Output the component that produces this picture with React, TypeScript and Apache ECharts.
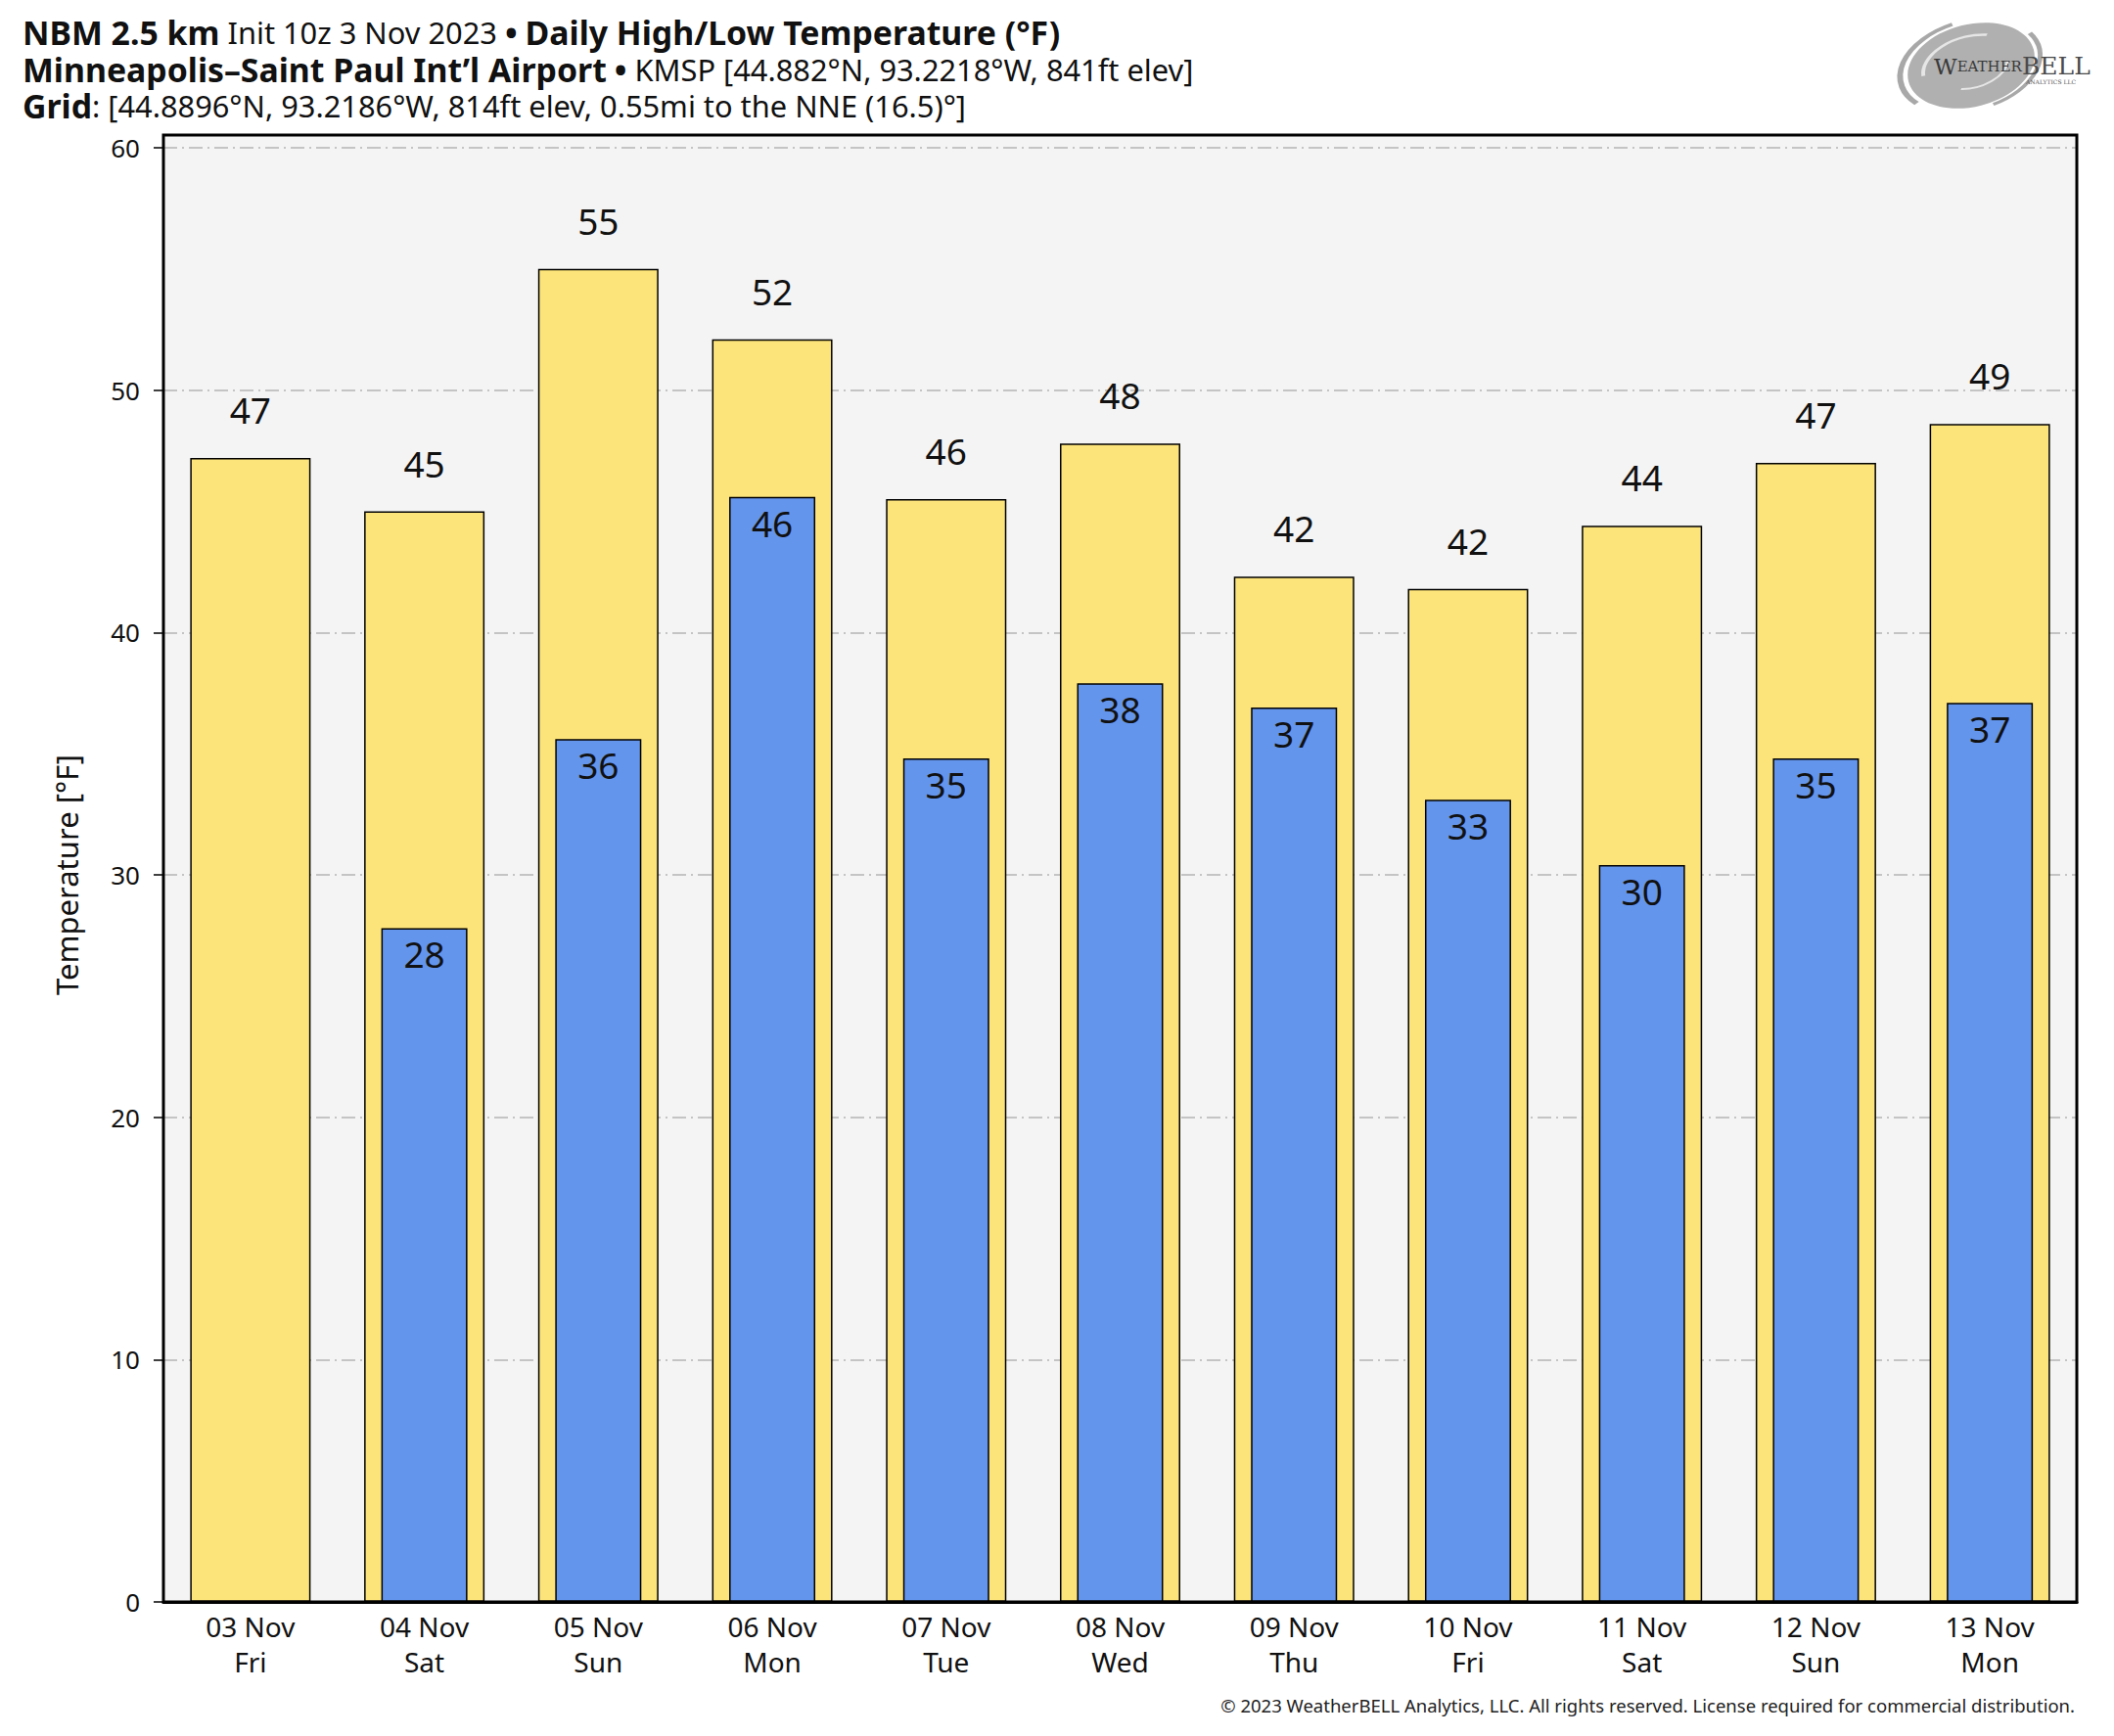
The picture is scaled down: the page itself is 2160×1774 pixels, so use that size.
import React, { useEffect, useRef } from "react";
import * as echarts from "echarts";

const categories = ["03 Nov", "04 Nov", "05 Nov", "06 Nov", "07 Nov", "08 Nov", "09 Nov", "10 Nov", "11 Nov", "12 Nov", "13 Nov"];
const weekdays = ["Fri", "Sat", "Sun", "Mon", "Tue", "Wed", "Thu", "Fri", "Sat", "Sun", "Mon"];
const highs = [47.2, 45.0, 55.0, 52.1, 45.5, 47.8, 42.3, 41.8, 44.4, 47.0, 48.6];
const lows: (number | null)[] = [null, 27.8, 35.6, 45.6, 34.8, 37.9, 36.9, 33.1, 30.4, 34.8, 37.1];
const yTicks = [0, 10, 20, 30, 40, 50, 60];

const FONT = "'Noto Sans', 'Open Sans', sans-serif";
const titleRich = {
  b: { fontFamily: FONT, fontSize: 33.8, lineHeight: 36, fontWeight: "bold", color: "#111" },
  r: { fontFamily: FONT, fontSize: 30.8, lineHeight: 36, fontWeight: "normal", color: "#111" },
};

export default function App() {
  const ref = useRef<HTMLDivElement>(null);
  useEffect(() => {
    document.body.style.margin = "0";
    const chart = echarts.init(ref.current!, null, { renderer: "svg" });
    const option: any = {
      animation: false,
      backgroundColor: "#ffffff",
      textStyle: { fontFamily: FONT },
      title: [
        {
          left: 23,
          top: 15,
          padding: 0,
          text: "{b|NBM 2.5 km}{r| Init 10z 3 Nov 2023 }{b|•}{r| }{b|Daily High/Low Temperature (°F)}",
          textStyle: { fontWeight: "normal", rich: titleRich },
        },
        {
          left: 23,
          top: 53,
          padding: 0,
          text: "{b|Minneapolis–Saint Paul Int’l Airport}{r| }{b|•}{r| KMSP [44.882°N, 93.2218°W, 841ft elev]}",
          textStyle: { fontWeight: "normal", rich: titleRich },
        },
        {
          left: 23,
          top: 90,
          padding: 0,
          text: "{b|Grid}{r|: [44.8896°N, 93.2186°W, 814ft elev, 0.55mi to the NNE (16.5)°]}",
          textStyle: { fontWeight: "normal", rich: titleRich },
        },
      ],
      grid: { left: 167, right: 38, top: 151, bottom: 137, containLabel: false },
      xAxis: [
        {
          type: "category",
          data: categories,
          axisTick: { show: false },
          axisLine: { show: true, lineStyle: { color: "#000", width: 3 } },
          axisLabel: {
            fontFamily: FONT,
            fontSize: 28,
            color: "#111",
            lineHeight: 36,
            margin: 7,
            formatter: (v: string, i: number) => v + "\n" + weekdays[i],
          },
        },
        { type: "category", data: categories, show: false },
      ],
      yAxis: {
        type: "value",
        min: 0,
        max: 60,
        interval: 10,
        name: "Temperature [°F]",
        nameLocation: "middle",
        nameGap: 84,
        nameTextStyle: { fontFamily: FONT, fontSize: 31, color: "#111" },
        axisLine: { show: false },
        axisTick: { show: true, length: 10, lineStyle: { color: "#000", width: 1.5 } },
        axisLabel: {
          fontFamily: FONT,
          fontSize: 26,
          color: "#111",
          margin: 24,
          formatter: (v: number) => (yTicks.includes(v) ? String(v) : ""),
        },
        splitLine: {
          show: true,
          lineStyle: { color: "#b4b4b4", width: 1.5, type: [14, 5, 2, 5] },
        },
      },
      graphic: [
        {
          type: "rect",
          z: -10,
          silent: true,
          shape: { x: 167, y: 138, width: 1955, height: 1499 },
          style: { fill: "#f4f4f4" },
        },
        {
          type: "rect",
          z: 100,
          silent: true,
          shape: { x: 167, y: 138, width: 1955, height: 1499 },
          style: { fill: "none", stroke: "#000", lineWidth: 3 },
        },
        {
          type: "text",
          right: 40,
          top: 1733,
          style: {
            text: "© 2023 WeatherBELL Analytics, LLC. All rights reserved. License required for commercial distribution.",
            fontFamily: FONT,
            fontSize: 18.5,
            fill: "#222",
          },
        },
        {
          type: "group",
          x: 2014,
          y: 67,
          children: [
            {
              type: "ellipse",
              rotation: 0.25,
              shape: { cx: 0, cy: 0, rx: 66, ry: 42 },
              style: { fill: "#b0b0b0" },
            },
            {
              type: "arc",
              rotation: 0.25,
              shape: { cx: 0, cy: 0, r: 74, startAngle: 2.6, endAngle: 4.6 },
              scaleY: 0.62,
              style: { stroke: "#a8a8a8", lineWidth: 6, fill: "none" },
            },
            {
              type: "arc",
              rotation: 0.25,
              shape: { cx: 0, cy: 0, r: 72, startAngle: -0.4, endAngle: 1.4 },
              scaleY: 0.62,
              style: { stroke: "#a8a8a8", lineWidth: 5, fill: "none" },
            },
            {
              type: "arc",
              rotation: 0.25,
              shape: { cx: 0, cy: 0, r: 50, startAngle: 3.2, endAngle: 5.2 },
              scaleY: 0.6,
              style: { stroke: "#e6e6e6", lineWidth: 4, fill: "none" },
            },
            {
              type: "arc",
              rotation: 0.25,
              shape: { cx: 0, cy: 0, r: 38, startAngle: 0.2, endAngle: 2.0 },
              scaleY: 0.6,
              style: { stroke: "#e6e6e6", lineWidth: 3, fill: "none" },
            },
          ],
        },
        {
          type: "text",
          x: 1976,
          y: 55,
          style: {
            text: "{w|W}{s|EATHER}{bb|BELL}",
            rich: {
              w: { fontFamily: "'DejaVu Serif', serif", fontSize: 23, fill: "#3a3a3a" },
              s: { fontFamily: "'DejaVu Serif', serif", fontSize: 15, fill: "#3a3a3a" },
              bb: { fontFamily: "'DejaVu Serif', serif", fontSize: 25, fill: "#4a4a4a" },
            },
          },
        },
        {
          type: "text",
          x: 2070,
          y: 80,
          style: {
            text: "ANALYTICS LLC",
            fontFamily: "'DejaVu Serif', serif",
            fontSize: 6,
            fill: "#555",
          },
        },
      ],
      series: [
        {
          name: "High",
          type: "bar",
          xAxisIndex: 0,
          data: highs,
          barWidth: "69.2%",
          z: 2,
          itemStyle: { color: "#fde47a", borderColor: "#000", borderWidth: 1.5 },
          label: {
            show: true,
            position: "top",
            distance: 31,
            fontFamily: FONT,
            fontSize: 37,
            color: "#111",
            formatter: (p: any) => String(Math.round(p.value)),
          },
        },
        {
          name: "Low",
          type: "bar",
          xAxisIndex: 1,
          data: lows,
          barWidth: "49.5%",
          z: 3,
          itemStyle: { color: "#6495ed", borderColor: "#000", borderWidth: 1.5 },
          label: {
            show: true,
            position: "insideTop",
            distance: 8,
            fontFamily: FONT,
            fontSize: 37,
            color: "#111",
            formatter: (p: any) => (p.value == null ? "" : String(Math.round(p.value))),
          },
        },
      ],
    };
    chart.setOption(option);
    return () => chart.dispose();
  }, []);
  return <div ref={ref} style={{ width: 2160, height: 1774 }} />;
}
